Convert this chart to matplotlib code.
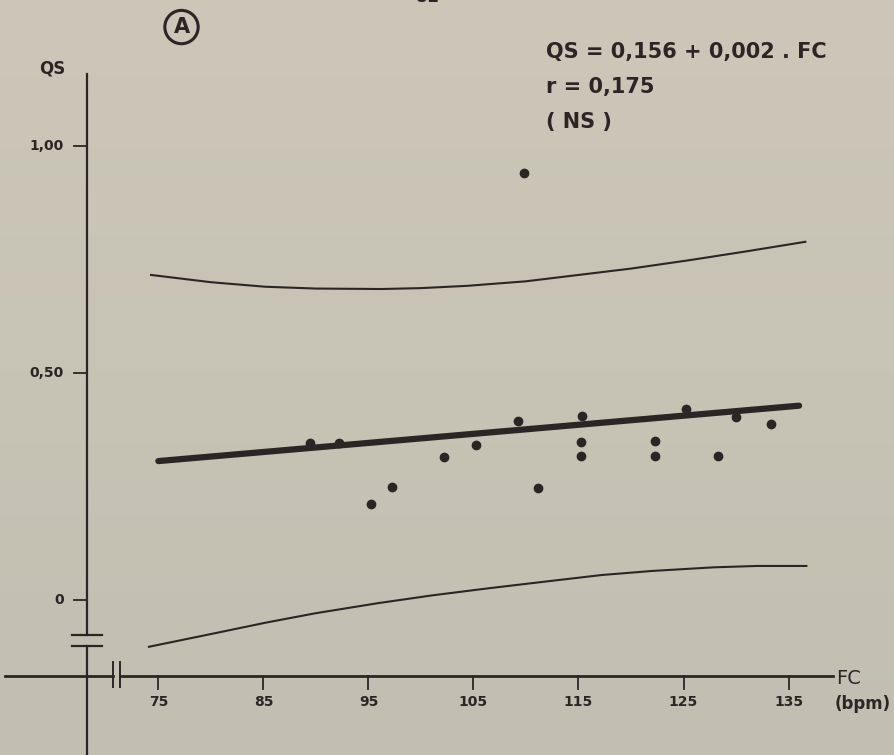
import numpy as np
import matplotlib.pyplot as plt

# heart rate (bpm) and QS values of the individual subjects
fc = [89.4, 92.2, 95.2, 97.2, 102.2, 105.2, 109.2, 109.8, 111.1, 115.3, 115.2,
      115.2, 122.3, 122.3, 125.2, 128.3, 130.0, 133.3]
qs = [0.345, 0.346, 0.211, 0.248, 0.316, 0.341, 0.395, 0.940, 0.247, 0.405,
      0.347, 0.317, 0.350, 0.317, 0.421, 0.317, 0.404, 0.388]

# regression QS = a + b.FC
intercept = 0.156
slope = 0.002
fit_range = [75, 136]

# prediction band
band_fc = [74.3, 80.0, 85.2, 90.0, 96.3, 100.0, 104.4, 110.0, 115.0, 120.0, 125.7, 131.0, 136.6]
band_upper = [0.716, 0.700, 0.690, 0.686, 0.685, 0.687, 0.692, 0.702, 0.716, 0.730, 0.749, 0.768, 0.789]
band_lower_fc = [74.1, 80.0, 85.2, 90.0, 95.9, 101.0, 106.5, 112.0, 117.2, 122.0, 127.9, 132.0, 136.7]
band_lower = [-0.103, -0.075, -0.050, -0.029, -0.007, 0.010, 0.026, 0.041, 0.055, 0.064, 0.072, 0.075, 0.075]

x_ticks = [75, 85, 95, 105, 115, 125, 135]
y_ticks = [0, 0.5, 1.0]
y_labels = ['0', '0,50', '1,00']

ink = '#2b2526'

fig = plt.figure(figsize=(8.94, 7.55), dpi=100)
ax = fig.add_axes([0, 0, 1, 1])
ax.set_xlim(59.92, 145.04)
ax.set_ylim(-0.3414, 1.3216)
ax.axis('off')

# paper background, a little warmer at the top
grad = np.linspace(0.0, 1.0, 256).reshape(-1, 1)
top = np.array([0.80, 0.78, 0.72])
bottom = np.array([0.76, 0.75, 0.70])
bg = top + (bottom - top) * grad[..., None]
ax.imshow(bg, extent=[59.92, 145.04, -0.3414, 1.3216], aspect='auto', zorder=0)

# axes drawn by hand, with breaks near the origin
y_ax = 68.2
x_ax = -0.167
ax.plot([y_ax, y_ax], [1.159, -0.076], color=ink, lw=1.6, zorder=2)
ax.plot([y_ax, y_ax], [-0.101, -0.35], color=ink, lw=1.6, zorder=2)
for yb in [-0.076, -0.101]:
    ax.plot([66.8, 69.6], [yb, yb], color=ink, lw=1.6, zorder=2)

ax.plot([60.4, 70.7], [x_ax, x_ax], color=ink, lw=2.0, zorder=2)
ax.plot([71.3, 139.2], [x_ax, x_ax], color=ink, lw=2.0, zorder=2)
for xb in [70.7, 71.3]:
    ax.plot([xb, xb], [-0.137, -0.192], color=ink, lw=1.4, zorder=2)

# ticks and tick labels
for t in x_ticks:
    ax.plot([t, t], [x_ax, -0.197], color=ink, lw=1.3, zorder=2)
    ax.text(t, -0.225, str(t), ha='center', va='center', fontsize=10,
            fontweight='bold', color=ink)
for t, lab in zip(y_ticks, y_labels):
    ax.plot([67.0, y_ax], [t, t], color=ink, lw=1.3, zorder=2)
    ax.text(66.0, t, lab, ha='right', va='center', fontsize=10,
            fontweight='bold', color=ink)

ax.text(64.9, 1.170, 'QS', ha='center', va='center', fontsize=12,
        fontweight='bold', color=ink)
ax.text(139.5, -0.172, 'FC', ha='left', va='center', fontsize=14, color=ink)
ax.text(139.4, -0.230, '(bpm)', ha='left', va='center', fontsize=12,
        fontweight='bold', color=ink)

# prediction band
ax.plot(band_fc, band_upper, color=ink, lw=1.5, zorder=3)
ax.plot(band_lower_fc, band_lower, color=ink, lw=1.5, zorder=3)

# regression line
fit_x = np.array(fit_range)
ax.plot(fit_x, intercept + slope * fit_x, color=ink, lw=4.5,
        solid_capstyle='round', zorder=3)

# subjects
ax.plot(fc, qs, 'o', color=ink, markersize=6, zorder=4)

# equation block
ax.text(111.9, 1.207, 'QS = 0,156 + 0,002 . FC', ha='left', va='center',
        fontsize=15, fontweight='bold', color=ink)
ax.text(111.9, 1.130, 'r = 0,175', ha='left', va='center',
        fontsize=15, fontweight='bold', color=ink)
ax.text(111.9, 1.053, '( NS )', ha='left', va='center',
        fontsize=15, fontweight='bold', color=ink)

# panel letter
ax.text(77.2, 1.262, 'A', ha='center', va='center', fontsize=15,
        fontweight='bold', color=ink,
        bbox=dict(boxstyle='circle,pad=0.32', fc='none', ec=ink, lw=2.2))

# page number, running off the top edge
ax.text(100.6, 1.308, '82', ha='center', va='bottom', fontsize=12,
        fontweight='bold', color=ink)

fig.savefig('out.png', dpi=100)
